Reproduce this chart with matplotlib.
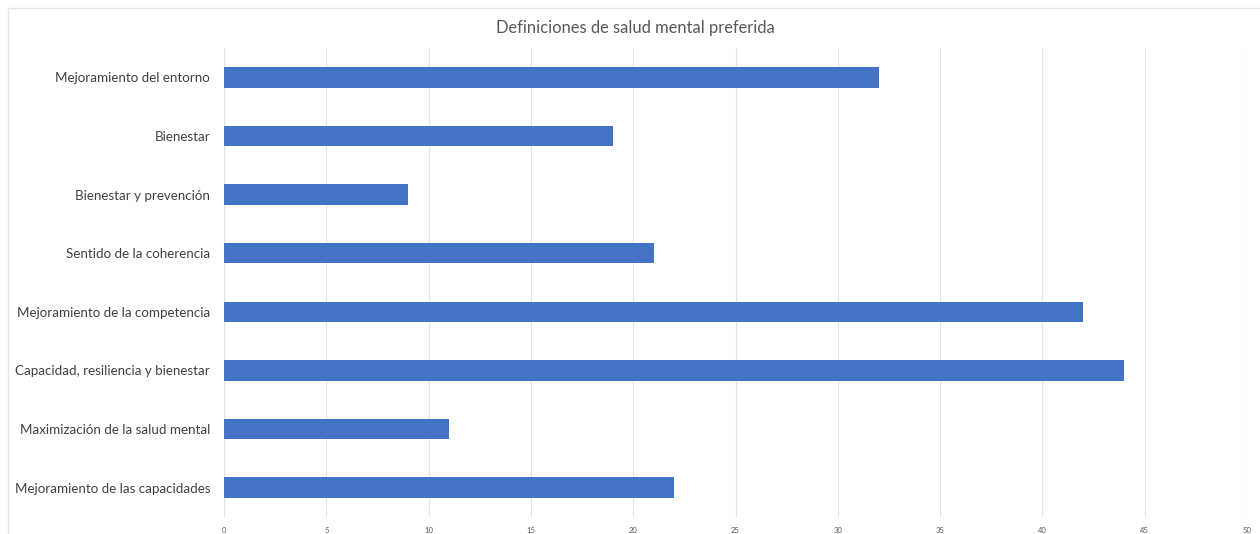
import matplotlib.pyplot as plt
from matplotlib.patches import Rectangle

categories = [
    "Mejoramiento del entorno",
    "Bienestar",
    "Bienestar y prevención",
    "Sentido de la coherencia",
    "Mejoramiento de la competencia",
    "Capacidad, resiliencia y bienestar",
    "Maximización de la salud mental",
    "Mejoramiento de las capacidades",
]
values = [32, 19, 9, 21, 42, 44, 11, 22]
x_ticks = [0, 5, 10, 15, 20, 25, 30, 35, 40, 45, 50]

plt.rcParams["font.family"] = ["Lato", "DejaVu Sans"]

fig = plt.figure(figsize=(12.6, 5.34), dpi=100)
fig.patches.append(Rectangle((8 / 1260, -0.1), 1.2, 1.1 - 8 / 534, transform=fig.transFigure,
                             fill=False, edgecolor="#e6e6e6", linewidth=1.0))
ax = fig.add_axes([224 / 1260, 17 / 534, 1023 / 1260, 469 / 534])

pos = list(range(len(categories)))
ax.barh(pos, values, height=0.35, color="#4472c4", zorder=3)
ax.set_ylim(len(categories) - 0.5, -0.5)
ax.set_xlim(0, 50)
ax.set_xticks(x_ticks)
ax.set_xticklabels([str(t) for t in x_ticks], fontsize=5.5, color="#595959")
ax.set_yticks(pos)
ax.set_yticklabels(categories, fontsize=9.6, color="#404040")
ax.tick_params(axis="both", length=0)
ax.tick_params(axis="y", pad=10)
ax.tick_params(axis="x", pad=7)
ax.grid(axis="x", color="#e3e3e3", linewidth=0.8, zorder=0)
for s in ax.spines.values():
    s.set_visible(False)

fig.text(635 / 1260, 1 - 28 / 534, "Definiciones de salud mental preferida",
         ha="center", va="center", fontsize=11.9, color="#595959")

fig.savefig("out.png", dpi=100)
